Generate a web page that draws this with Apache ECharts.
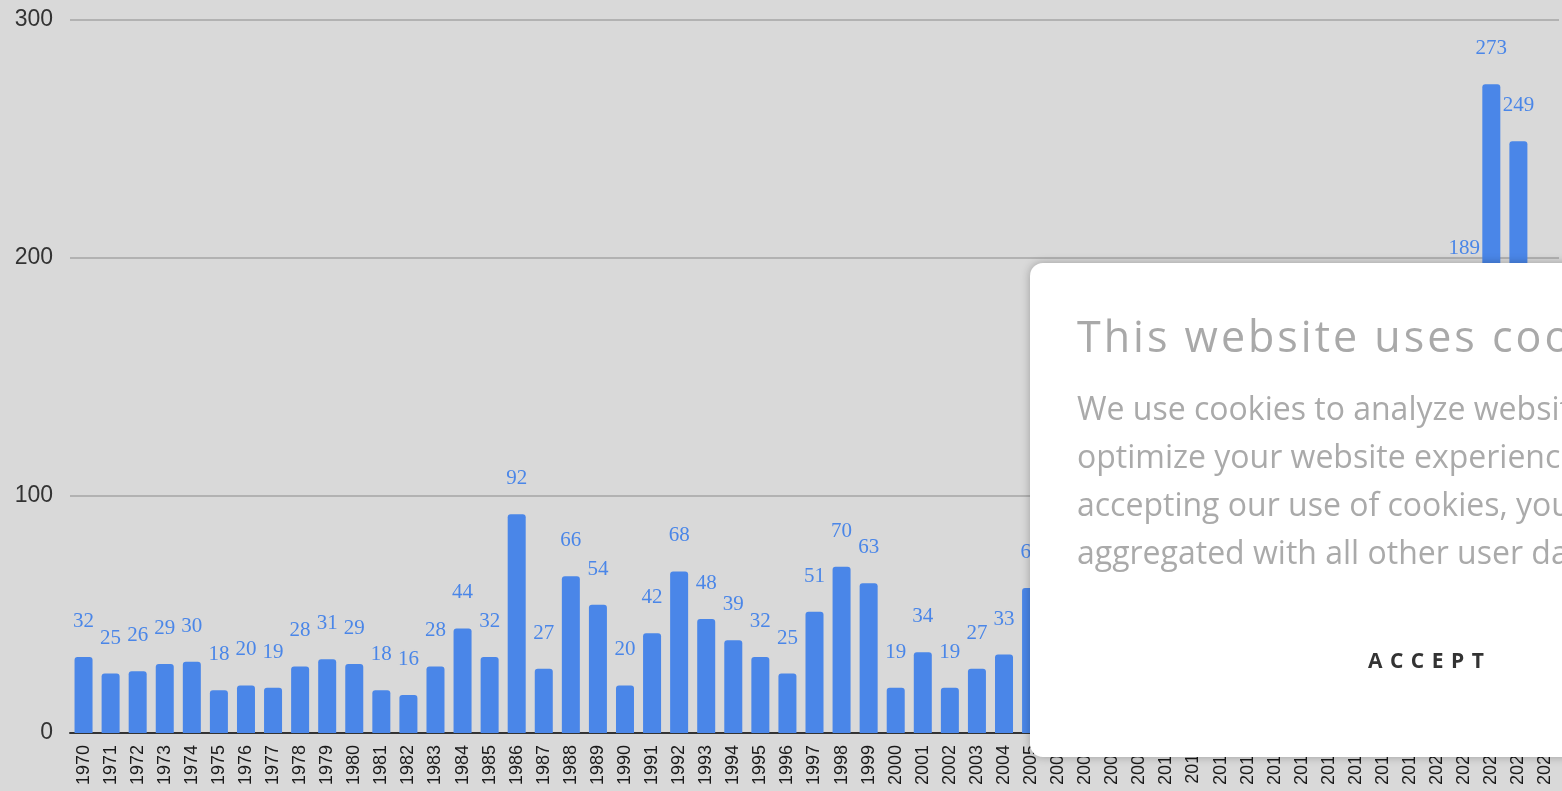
<!DOCTYPE html>
<html>
<head>
<meta charset="utf-8">
<title>Bars per year</title>
<script src="https://cdn.jsdelivr.net/npm/echarts@6/dist/echarts.min.js"></script>
<style>
  html, body { margin: 0; padding: 0; overflow: hidden; background: #d9d9d9; }
  #chart { position: absolute; left: 0; top: 0; width: 1562px; height: 791px; }
  .cookie {
    position: absolute; left: 1030px; top: 263px; width: 620px; height: 494px;
    background: #fff; border-radius: 13px; box-shadow: 0 0 10px rgba(0,0,0,0.28);
    font-family: "Open Sans", sans-serif; white-space: nowrap; overflow: hidden;
  }
  .cookie h2 {
    position: absolute; left: 47px; top: 43px; margin: 0;
    font-size: 43px; font-weight: 400; letter-spacing: 3px; color: #a9a9a9;
  }
  .cookie p {
    position: absolute; left: 47px; top: 121px; margin: 0;
    font-size: 32px; line-height: 48px; color: #aaaaaa;
  }
  .cookie .accept {
    position: absolute; left: 338px; top: 383px;
    font-size: 21px; font-weight: 700; letter-spacing: 7.5px; color: #333;
  }
</style>
</head>
<body>
<div id="chart"></div>
<div class="cookie">
  <h2>This website uses cookies</h2>
  <p>We use cookies to analyze website traffic and<br>optimize your website experience. By<br>accepting our use of cookies, your data will be<br>aggregated with all other user data.</p>
  <div class="accept">ACCEPT</div>
</div>
<script>
  // categories: one per year
  const years = [];
  for (let y = 1970; y <= 2024; y++) years.push(String(y));

  // values (2006-2020 and 2024 sit under the cookie box, estimated)
  const counts = [
    32, 25, 26, 29, 30, 18, 20, 19, 28, 31,
    29, 18, 16, 28, 44, 32, 92, 27, 66, 54,
    20, 42, 68, 48, 39, 32, 25, 51, 70, 63,
    19, 34, 19, 27, 33, 61, 58, 71, 64, 80,
    86, 97, 92, 108, 117, 126, 140, 133, 152, 160,
    171, 189, 273, 249, 120
  ];

  const yTicks = { min: 0, max: 300, step: 100 };

  const myChart = echarts.init(document.getElementById('chart'));

  const option = {
    backgroundColor: '#d9d9d9',
    animation: false,
    grid: { left: 70, right: 3, top: 20, bottom: 58, containLabel: false },
    xAxis: {
      type: 'category',
      data: years,
      axisLine: { lineStyle: { color: '#333', width: 2 } },
      axisTick: { show: false },
      axisLabel: {
        interval: 0,
        rotate: 90,
        margin: 12,
        fontSize: 18,
        fontFamily: 'Liberation Sans, Arial, sans-serif',
        color: '#1a1a1a'
      }
    },
    yAxis: {
      type: 'value',
      min: yTicks.min,
      max: yTicks.max,
      interval: yTicks.step,
      axisLine: { show: false },
      axisTick: { show: false },
      axisLabel: {
        margin: 17,
        fontSize: 23,
        fontFamily: 'Liberation Sans, Arial, sans-serif',
        color: '#333'
      },
      splitLine: { lineStyle: { color: '#b2b2b2', width: 2 } }
    },
    series: [
      {
        type: 'bar',
        data: counts,
        barWidth: 18,
        itemStyle: { color: '#4a86e8', borderRadius: [3, 3, 0, 0] },
        label: {
          show: true,
          position: 'top',
          distance: 25,
          fontSize: 21,
          fontFamily: 'Liberation Serif, Times New Roman, serif',
          color: '#4a86e8',
          textBorderColor: '#d9d9d9',
          textBorderWidth: 3
        }
      }
    ]
  };

  myChart.setOption(option);
</script>
</body>
</html>
